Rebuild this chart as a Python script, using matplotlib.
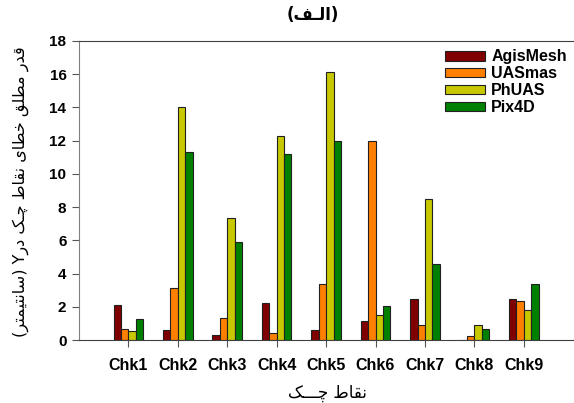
import numpy as np
import matplotlib
matplotlib.use("Agg")
import matplotlib.pyplot as plt

categories = ["Chk1", "Chk2", "Chk3", "Chk4", "Chk5", "Chk6", "Chk7", "Chk8", "Chk9"]
agismesh = [2.1, 0.6, 0.3, 2.25, 0.6, 1.15, 2.47, 0.0, 2.47]
uasmas = [0.65, 3.15, 1.3, 0.4, 3.35, 12.0, 0.92, 0.24, 2.33]
phuas = [0.55, 14.0, 7.35, 12.3, 16.15, 1.5, 8.5, 0.88, 1.8]
pix4d = [1.25, 11.3, 5.9, 11.2, 11.95, 2.05, 4.6, 0.64, 3.35]
series_names = ["AgisMesh", "UASmas", "PhUAS", "Pix4D"]
colors = ["#800000", "#ff8000", "#c8c800", "#008000"]

# Persian text, pre-shaped into presentation forms in visual order
title_txt = "(\ufed2\u0640\ufedf\ufe8d)"
xlabel_txt = "\ufb8f\u0640\u0640\u0640\ufb7c \ufec1\ufe8e\ufed8\ufee7"
ylabel_txt = ("(\ufeae\ufe98\ufee4\ufbff\ufe98\ufee7\ufe8e\ufeb3) Y\ufead\ufea9 "
              "\ufb8f\u0640\ufb7c \ufec1\ufe8e\ufed8\ufee7 \ufbfc\ufe8e\ufec4\ufea7 "
              "\ufed6\ufee0\ufec4\ufee3 \ufead\ufeaa\ufed7")

plt.rcParams["font.family"] = ["Liberation Sans", "DejaVu Sans"]

fig = plt.figure(figsize=(5.74, 4.03), dpi=100)
ax = fig.add_axes([0.1376, 0.1563, 0.861, 0.742])

x = np.arange(1, len(categories) + 1)
w = 0.15
for i, (vals, name, c) in enumerate(zip([agismesh, uasmas, phuas, pix4d], series_names, colors)):
    ax.bar(x + (i - 1.5) * w, vals, w, color=c, edgecolor="#202020", linewidth=0.8, label=name)

ax.set_xlim(0, 10)
ax.set_ylim(0, 18)
ax.set_yticks(range(0, 19, 2))
ax.set_xticks(x)
ax.set_xticklabels(categories, fontsize=11.5, fontweight="bold")
for t in ax.get_yticklabels():
    t.set_fontsize(11)
    t.set_fontweight("bold")
ax.tick_params(axis="both", direction="out", length=5, color="#555555", pad=4)
ax.tick_params(axis="x", pad=8)

ax.spines["right"].set_visible(False)
ax.spines["left"].set_color("#808080")
ax.spines["top"].set_color("#404040")
ax.spines["bottom"].set_color("#404040")

leg = ax.legend(loc="upper right", bbox_to_anchor=(1.016, 1.02), frameon=False,
                handlelength=2.5, handleheight=0.55, labelspacing=0.12, handletextpad=0.4,
                prop={"weight": "bold", "size": 11.5})

fig.text(313 / 574, 1 - 15 / 403, title_txt, ha="center", va="center",
         fontsize=12, fontweight="bold", family=["DejaVu Sans"])
fig.text(327 / 574, 1 - 393 / 403, xlabel_txt, ha="center", va="center",
         fontsize=12, family=["DejaVu Sans"])
fig.text(21 / 574, 1 - 192 / 403, ylabel_txt, ha="center", va="center",
         rotation=90, fontsize=11.6, family=["DejaVu Sans"])

fig.savefig("out.png", dpi=100)
